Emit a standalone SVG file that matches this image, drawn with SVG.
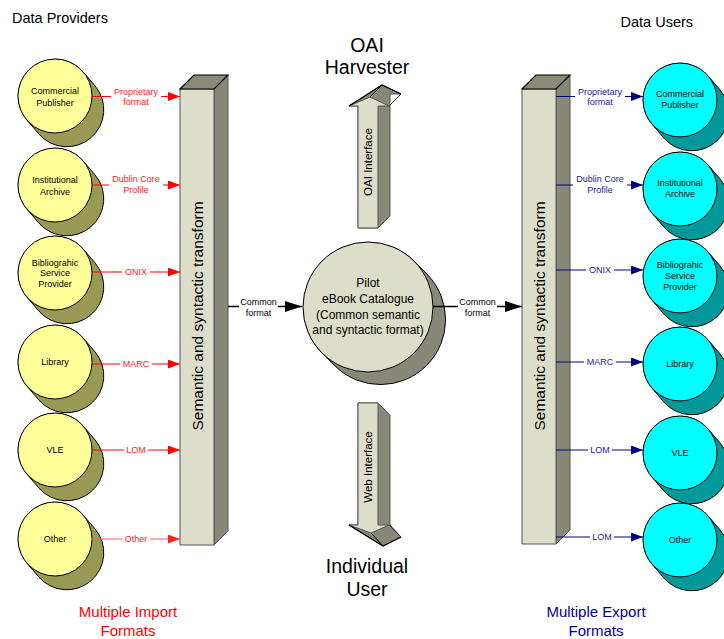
<svg xmlns="http://www.w3.org/2000/svg" xmlns:xlink="http://www.w3.org/1999/xlink" width="724" height="639" viewBox="0 0 724 639">
  <style>
    text { font-family: "Liberation Sans", Arial, sans-serif; }
    .small { font-size: 9px; text-anchor: middle; fill: #000; }
    .lab-red { font-size: 9px; text-anchor: middle; fill: #FF2020; }
    .lab-blue { font-size: 9px; text-anchor: middle; fill: #1A1A99; }
    .lab-blk { font-size: 9px; text-anchor: middle; fill: #000; }
    .title { font-size: 14.5px; fill: #000; }
    .big { font-size: 19.5px; text-anchor: middle; fill: #000; }
    .foot { font-size: 15px; text-anchor: middle; }
    .bar-text { font-size: 15.5px; text-anchor: middle; fill: #000; }
    .arrow-text { font-size: 11.5px; text-anchor: middle; fill: #000; }
    .cat-text { font-size: 12px; text-anchor: middle; fill: #000; }
    .yf { fill: #FFFF99; stroke: #000; stroke-width: 1; }
    .ys { fill: #999956; stroke: #000; stroke-width: 1; }
    .cf { fill: #00FFFF; stroke: #000; stroke-width: 1; }
    .cs { fill: #009999; stroke: #000; stroke-width: 1; }
    .front { fill: #DCDEC9; stroke: #555; stroke-width: 1; }
    .side { fill: #878877; stroke: #555; stroke-width: 1; }
    .top { fill: #8A8B79; stroke: #000; stroke-width: 1.2; }
    .red { stroke: #FF0000; stroke-width: 1.2; fill: none; }
    .red-lt { stroke: #FF6060; stroke-width: 1.2; fill: none; }
    .navy { stroke: #000080; stroke-width: 1.2; fill: none; }
    .blk { stroke: #000; stroke-width: 1.5; fill: none; }
    .bg { fill: #fff; }
  </style>
  <defs>
    <!-- extruded disc back face for r=37 nodes, offset (12,14) -->
    <path id="disc-shadow" d="M -28.09,24.08 L -16.09,38.08 A 37 37 0 0 0 40.09,-10.08 L 28.09,-24.08 A 37 37 0 0 0 -28.09,24.08 Z"/>
    <!-- extruded disc back face for the central r=65 node, offset (13,13) -->
    <path id="disc-shadow-lg" d="M -45.96,45.96 L -32.96,58.96 A 65 65 0 0 0 58.96,-32.96 L 45.96,-45.96 A 65 65 0 0 0 -45.96,45.96 Z"/>
    <marker id="ar-red" viewBox="0 0 12 9" refX="12" refY="4.5" markerWidth="12" markerHeight="9" orient="auto" markerUnits="userSpaceOnUse">
      <path d="M0,0 L12,4.5 L0,9 Z" fill="#FF0000"/>
    </marker>
    <marker id="ar-red-lt" viewBox="0 0 12 9" refX="12" refY="4.5" markerWidth="12" markerHeight="9" orient="auto" markerUnits="userSpaceOnUse">
      <path d="M0,0 L12,4.5 L0,9 Z" fill="#FF2020"/>
    </marker>
    <marker id="ar-navy" viewBox="0 0 12 9" refX="12" refY="4.5" markerWidth="12" markerHeight="9" orient="auto" markerUnits="userSpaceOnUse">
      <path d="M0,0 L12,4.5 L0,9 Z" fill="#000080"/>
    </marker>
    <marker id="ar-blk" viewBox="0 0 17 11" refX="17" refY="5.5" markerWidth="17" markerHeight="11" orient="auto" markerUnits="userSpaceOnUse">
      <path d="M0,0 L17,5.5 L0,11 Z" fill="#000"/>
    </marker>
  </defs>

  <rect width="724" height="639" fill="#fff"/>

  <!-- headings -->
  <text class="title" x="12" y="22.5">Data Providers</text>
  <text class="title" x="620.5" y="27">Data Users</text>
  <text class="big" x="367" y="52">OAI</text>
  <text class="big" x="367" y="74">Harvester</text>
  <text class="big" x="367" y="573">Individual</text>
  <text class="big" x="367" y="596">User</text>
  <text class="foot" x="128" y="617" fill="#FF0000">Multiple Import</text>
  <text class="foot" x="128" y="636" fill="#FF0000">Formats</text>
  <text class="foot" x="596" y="617" fill="#000099">Multiple Export</text>
  <text class="foot" x="596" y="636" fill="#000099">Formats</text>

  <!-- data providers -->
  <g id="src-commercial" transform="translate(55,96)">
    <use xlink:href="#disc-shadow" class="ys"/>
    <circle r="37" class="yf"/>
    <text class="small" y="-1.7">Commercial</text>
    <text class="small" y="9.5">Publisher</text>
  </g>
  <g id="src-institutional" transform="translate(55,185)">
    <use xlink:href="#disc-shadow" class="ys"/>
    <circle r="37" class="yf"/>
    <text class="small" y="-1.7">Institutional</text>
    <text class="small" y="9.5">Archive</text>
  </g>
  <g id="src-bibliographic" transform="translate(55,273)">
    <use xlink:href="#disc-shadow" class="ys"/>
    <circle r="37" class="yf"/>
    <text class="small" y="-7.5">Bibliograhic</text>
    <text class="small" y="3.3">Service</text>
    <text class="small" y="14">Provider</text>
  </g>
  <g id="src-library" transform="translate(55,362)">
    <use xlink:href="#disc-shadow" class="ys"/>
    <circle r="37" class="yf"/>
    <text class="small" y="3.3">Library</text>
  </g>
  <g id="src-vle" transform="translate(55,450)">
    <use xlink:href="#disc-shadow" class="ys"/>
    <circle r="37" class="yf"/>
    <text class="small" y="3.3">VLE</text>
  </g>
  <g id="src-other" transform="translate(55,539)">
    <use xlink:href="#disc-shadow" class="ys"/>
    <circle r="37" class="yf"/>
    <text class="small" y="3.3">Other</text>
  </g>

  <!-- import transform bar -->
  <g id="import-transform">
    <polygon class="side" points="214,89 228,75 228,531 214,545"/>
    <polygon class="front" points="180,89 214,89 214,545 180,545"/>
    <polygon class="top" points="180,89 194,75 228,75 214,89"/>
    <text class="bar-text" transform="translate(202.5,316) rotate(-90)">Semantic and syntactic transform</text>
  </g>

  <!-- export transform bar -->
  <g id="export-transform">
    <polygon class="side" points="556,89 570,75 570,530 556,544"/>
    <polygon class="front" points="522,89 556,89 556,544 522,544"/>
    <polygon class="top" points="522,89 536,75 570,75 556,89"/>
    <text class="bar-text" transform="translate(544.5,316) rotate(-90)">Semantic and syntactic transform</text>
  </g>

  <!-- OAI interface block arrow (up) -->
  <g id="oai-interface">
    <polygon class="side" points="358,228 358,106 349,106 382,85 401,94 390,94 390,216 378,228"/>
    <polygon class="front" points="358,228 358,106 349,106 370,97 389,106 378,106 378,228"/>
    <polyline points="370,97 382,85" stroke="#000" stroke-width="1" fill="none"/>
    <polyline points="389,106 401,94" stroke="#333" stroke-width="1" fill="none"/>
    <polyline points="349,106 382,85 401,94" stroke="#000" stroke-width="1.2" fill="none"/>
    <text class="arrow-text" transform="translate(372,162) rotate(-90)">OAI Interface</text>
  </g>

  <!-- web interface block arrow (down) -->
  <g id="web-interface">
    <polygon class="side" points="358,403 378,403 390,415 390,525 401,537 383,546 349,525 358,525"/>
    <polygon class="front" points="358,403 378,403 378,525 389,525 371,533 349,525 358,525"/>
    <polyline points="371,533 383,546" stroke="#000" stroke-width="1" fill="none"/>
    <polyline points="389,525 401,537" stroke="#333" stroke-width="1" fill="none"/>
    <polyline points="349,525 383,546 401,537" stroke="#000" stroke-width="1.2" fill="none"/>
    <text class="arrow-text" transform="translate(372,467) rotate(-90)">Web Interface</text>
  </g>

  <!-- central catalogue -->
  <g id="catalogue" transform="translate(368,307)">
    <use xlink:href="#disc-shadow-lg" class="side" style="stroke:#000"/>
    <circle r="65" class="front" style="stroke:#000"/>
    <text class="cat-text" y="-20">Pilot</text>
    <text class="cat-text" y="-4">eBook Catalogue</text>
    <text class="cat-text" y="11.5">(Common semantic</text>
    <text class="cat-text" y="26.5">and syntactic format)</text>
  </g>

  <!-- data users -->
  <g id="dst-commercial" transform="translate(680,100)">
    <use xlink:href="#disc-shadow" class="cs"/>
    <circle r="37" class="cf"/>
    <text class="small" y="-3">Commercial</text>
    <text class="small" y="8.3">Publisher</text>
  </g>
  <g id="dst-institutional" transform="translate(680,189)">
    <use xlink:href="#disc-shadow" class="cs"/>
    <circle r="37" class="cf"/>
    <text class="small" y="-3">Institutional</text>
    <text class="small" y="8.3">Archive</text>
  </g>
  <g id="dst-bibliographic" transform="translate(680,276)">
    <use xlink:href="#disc-shadow" class="cs"/>
    <circle r="37" class="cf"/>
    <text class="small" y="-8">Bibliograhic</text>
    <text class="small" y="3">Service</text>
    <text class="small" y="14">Provider</text>
  </g>
  <g id="dst-library" transform="translate(680,364)">
    <use xlink:href="#disc-shadow" class="cs"/>
    <circle r="37" class="cf"/>
    <text class="small" y="3.3">Library</text>
  </g>
  <g id="dst-vle" transform="translate(680,453)">
    <use xlink:href="#disc-shadow" class="cs"/>
    <circle r="37" class="cf"/>
    <text class="small" y="3.3">VLE</text>
  </g>
  <g id="dst-other" transform="translate(680,540)">
    <use xlink:href="#disc-shadow" class="cs"/>
    <circle r="37" class="cf"/>
    <text class="small" y="3.3">Other</text>
  </g>

  <!-- connectors -->
  <g id="connectors">
    <!-- import side -->
    <line class="red" x1="92" y1="96.5" x2="180" y2="96.5" marker-end="url(#ar-red)"/>
    <rect class="bg" x="111" y="85" width="50" height="22"/>
    <text class="lab-red" x="136" y="94.5">Proprietary</text>
    <text class="lab-red" x="136" y="105">format</text>

    <line class="red" x1="92" y1="185" x2="180" y2="185" marker-end="url(#ar-red)"/>
    <rect class="bg" x="109" y="173" width="54" height="22"/>
    <text class="lab-red" x="136" y="182">Dublin Core</text>
    <text class="lab-red" x="136" y="192.5">Profile</text>

    <line class="red" x1="92" y1="272" x2="180" y2="272" marker-end="url(#ar-red)"/>
    <rect class="bg" x="122" y="266" width="28" height="12"/>
    <text class="lab-red" x="136" y="275.3">ONIX</text>

    <line class="red" x1="92" y1="364" x2="180" y2="364" marker-end="url(#ar-red)"/>
    <rect class="bg" x="120" y="358" width="32" height="12"/>
    <text class="lab-red" x="136" y="367.3">MARC</text>

    <line class="red" x1="92" y1="450" x2="180" y2="450" marker-end="url(#ar-red)"/>
    <rect class="bg" x="124" y="444" width="24" height="12"/>
    <text class="lab-red" x="136" y="453.3">LOM</text>

    <line class="red-lt" x1="92" y1="539" x2="180" y2="539" marker-end="url(#ar-red-lt)"/>
    <rect class="bg" x="122" y="533" width="28" height="12"/>
    <text class="lab-red" x="136" y="542.3" fill="#FF4040">Other</text>

    <!-- into and out of the catalogue -->
    <line class="blk" x1="228" y1="306.5" x2="302" y2="306.5" marker-end="url(#ar-blk)"/>
    <rect class="bg" x="239" y="296" width="39" height="22"/>
    <text class="lab-blk" x="258.5" y="304.5">Common</text>
    <text class="lab-blk" x="258.5" y="315.5">format</text>

    <line class="blk" x1="433" y1="306.5" x2="522" y2="306.5" marker-end="url(#ar-blk)"/>
    <rect class="bg" x="458" y="296" width="39" height="22"/>
    <text class="lab-blk" x="477.5" y="304.5">Common</text>
    <text class="lab-blk" x="477.5" y="315.5">format</text>

    <!-- export side -->
    <line class="navy" x1="556" y1="96.5" x2="643" y2="96.5" marker-end="url(#ar-navy)"/>
    <rect class="bg" x="575" y="85" width="50" height="22"/>
    <text class="lab-blue" x="600" y="94.5">Proprietary</text>
    <text class="lab-blue" x="600" y="105">format</text>

    <line class="navy" x1="556" y1="185" x2="643" y2="185" marker-end="url(#ar-navy)"/>
    <rect class="bg" x="573" y="173" width="54" height="22"/>
    <text class="lab-blue" x="600" y="182">Dublin Core</text>
    <text class="lab-blue" x="600" y="192.5">Profile</text>

    <line class="navy" x1="556" y1="270" x2="643" y2="270" marker-end="url(#ar-navy)"/>
    <rect class="bg" x="586" y="264" width="28" height="12"/>
    <text class="lab-blue" x="600" y="273.3">ONIX</text>

    <line class="navy" x1="556" y1="362" x2="643" y2="362" marker-end="url(#ar-navy)"/>
    <rect class="bg" x="584" y="356" width="32" height="12"/>
    <text class="lab-blue" x="600" y="365.3">MARC</text>

    <line class="navy" x1="556" y1="450" x2="643" y2="450" marker-end="url(#ar-navy)"/>
    <rect class="bg" x="588" y="444" width="24" height="12"/>
    <text class="lab-blue" x="600" y="453.3">LOM</text>

    <line class="navy" x1="556" y1="537" x2="643" y2="537" marker-end="url(#ar-navy)"/>
    <rect class="bg" x="590" y="531" width="24" height="12"/>
    <text class="lab-blue" x="602" y="540.3">LOM</text>
  </g>
</svg>
